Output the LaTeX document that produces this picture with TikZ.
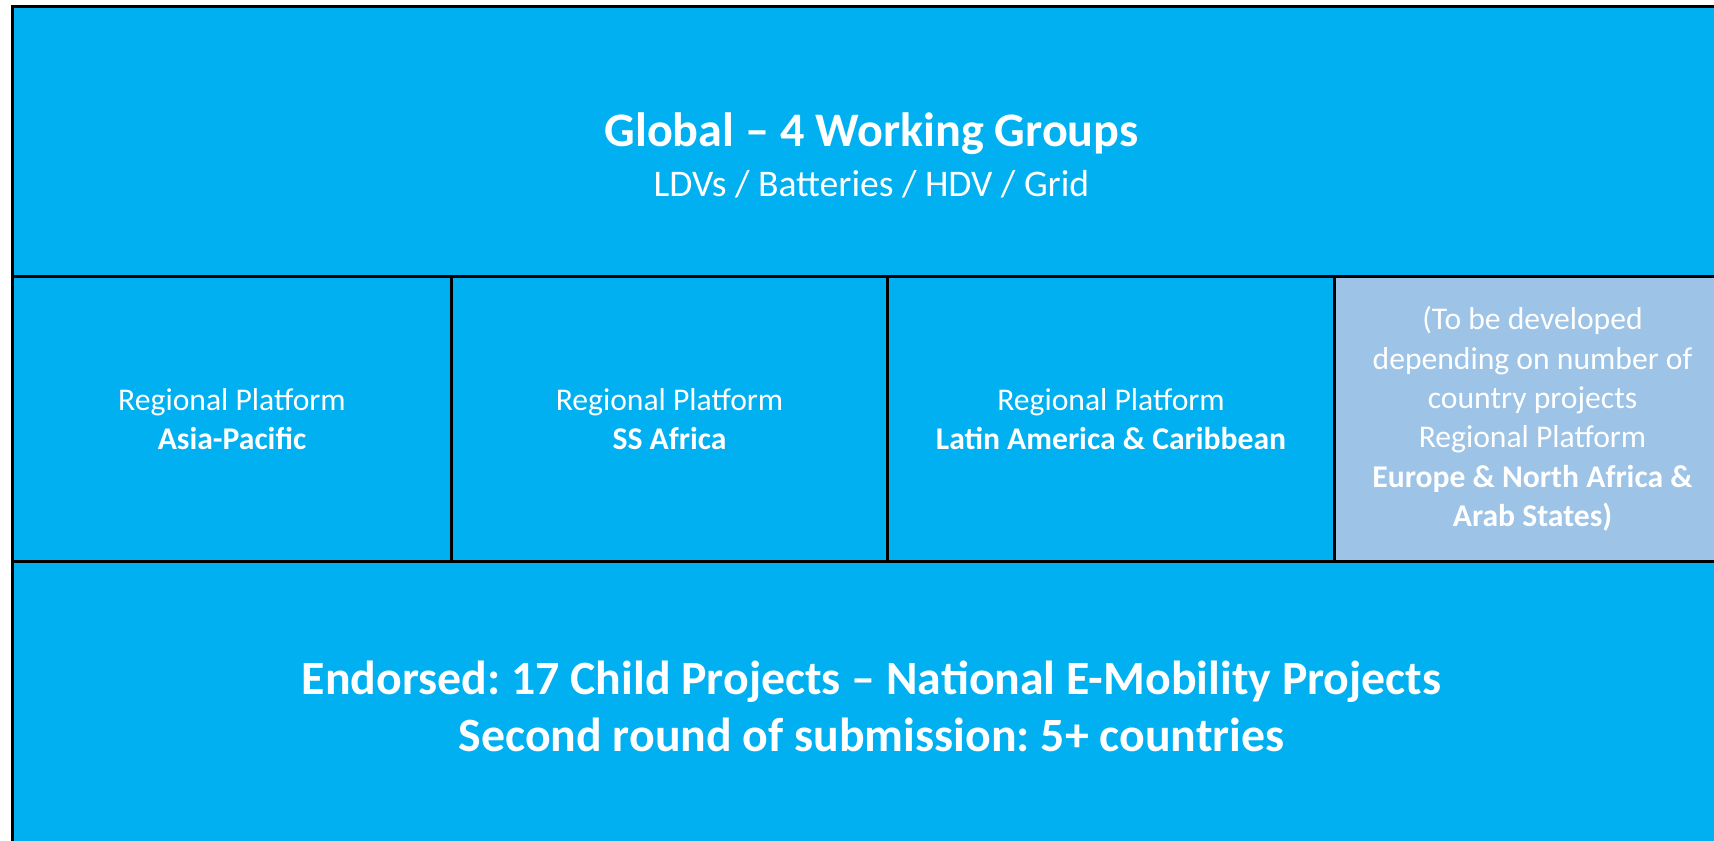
\documentclass[tikz,border=0pt]{standalone}
\usepackage{fontspec}
\setmainfont{Carlito}
\usetikzlibrary{positioning}
\definecolor{mainblue}{HTML}{00B0F0}
\definecolor{paleblue}{HTML}{9DC3E6}
\frenchspacing

\begin{document}
\begin{tikzpicture}[node distance=0pt, align=center,
    panel/.style={draw=black, line width=0.85pt, fill=mainblue, text=white, outer sep=0pt, inner sep=0pt},
    region/.style={panel, minimum height=2.85cm, font=\fontsize{9}{11.2}\selectfont},
    pending/.style={region, fill=paleblue},
    caption/.style={text=white, anchor=base, inner sep=0pt}]
  \clip (0,0) rectangle (17.14,-8.41);
  % global layer
  \node[panel, anchor=north west, minimum width=17.18cm, minimum height=2.70cm] (global) at (0.125,-0.065) {};
  \node[caption, font=\fontsize{13.7}{16}\bfseries\selectfont] (gtitle) at ([yshift=-1.405cm]global.north) {Global -- 4 Working Groups};
  \node[caption, font=\fontsize{10.7}{12}\selectfont] (gsub) at ([yshift=-1.905cm]global.north) {LDVs / Batteries / HDV / Grid};
  % regional platforms
  \node[region, anchor=north west, minimum width=4.39cm] (asia) at (global.south west) {Regional Platform\\\textbf{Asia-Pacific}};
  \node[region, minimum width=4.36cm, right=of asia] (africa) {Regional Platform\\\textbf{SS Africa}};
  \node[region, minimum width=4.47cm, right=of africa] (latam) {Regional Platform\\\textbf{Latin America \& Caribbean}};
  \node[pending, minimum width=3.96cm, right=of latam] (europe) {(To be developed\\depending on number of\\country projects\\Regional Platform\\\textbf{Europe \& North Africa \&}\\\textbf{Arab States)}};
  % national projects
  \node[panel, anchor=north west, minimum width=17.18cm, minimum height=2.89cm, font=\fontsize{13.6}{16.2}\bfseries\selectfont] (national) at (asia.south west) {Endorsed: 17 Child Projects -- National E-Mobility Projects\\Second round of submission: 5+ countries};
\end{tikzpicture}
\end{document}
